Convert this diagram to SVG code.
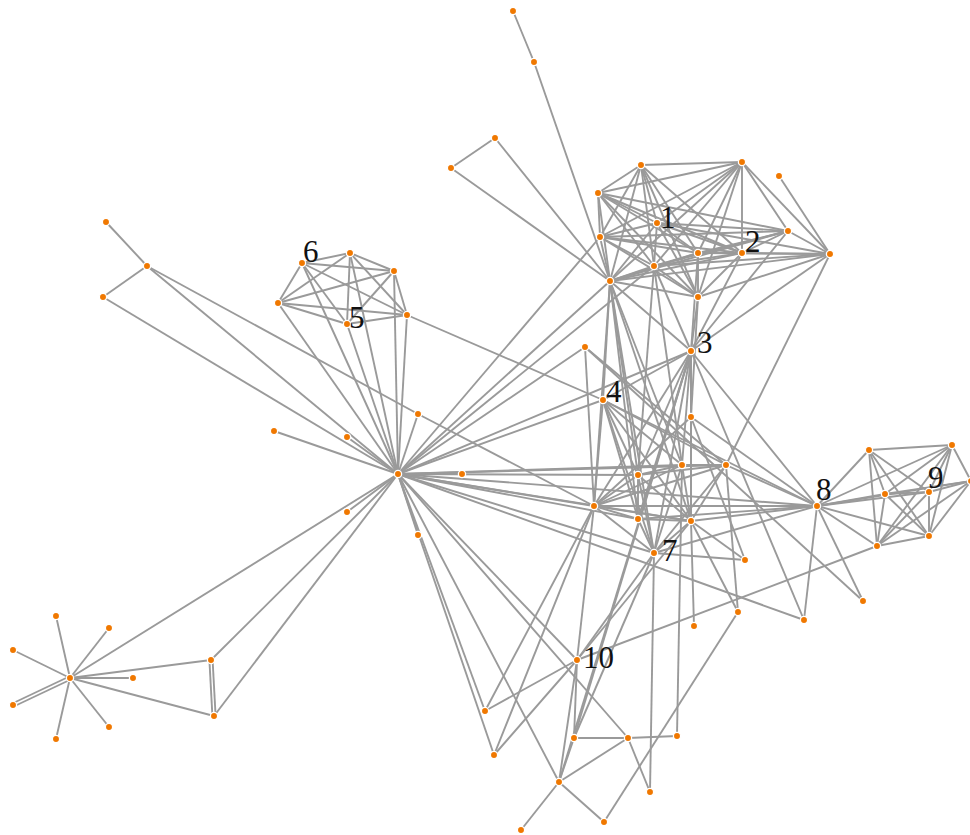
<svg xmlns="http://www.w3.org/2000/svg" width="970" height="835" viewBox="0 0 970 835">
<style>
.e line{stroke:#9a9a9a;stroke-width:1.9;fill:none}
.n circle{fill:#f07800;stroke:#ffffff;stroke-width:1.3}
.lbl{font-family:"Liberation Serif",serif;font-size:31px;fill:#111}
</style>
<rect width="970" height="835" fill="#ffffff"/>
<g id="edges" class="e">
<line x1="513" y1="11" x2="534" y2="62"/><line x1="534" y1="62" x2="610" y2="281"/><line x1="495" y1="138" x2="451" y2="168"/><line x1="495" y1="138" x2="610" y2="281"/><line x1="451" y1="168" x2="610" y2="281"/>
<line x1="106" y1="222" x2="147" y2="266"/><line x1="147" y1="266" x2="103" y2="297"/><line x1="147" y1="266" x2="398" y2="474"/><line x1="103" y1="297" x2="398" y2="474"/><line x1="147" y1="266" x2="418" y2="414"/><line x1="418" y1="414" x2="594" y2="506"/><line x1="418" y1="414" x2="398" y2="474"/>
<line x1="302" y1="263" x2="350" y2="253"/><line x1="302" y1="263" x2="394" y2="271"/><line x1="302" y1="263" x2="278" y2="303"/><line x1="302" y1="263" x2="347" y2="324"/><line x1="302" y1="263" x2="407" y2="315"/><line x1="350" y1="253" x2="394" y2="271"/><line x1="350" y1="253" x2="278" y2="303"/><line x1="350" y1="253" x2="347" y2="324"/><line x1="350" y1="253" x2="407" y2="315"/><line x1="394" y1="271" x2="278" y2="303"/><line x1="394" y1="271" x2="347" y2="324"/><line x1="394" y1="271" x2="407" y2="315"/><line x1="278" y1="303" x2="347" y2="324"/><line x1="278" y1="303" x2="407" y2="315"/><line x1="347" y1="324" x2="407" y2="315"/>
<line x1="302" y1="263" x2="398" y2="474"/><line x1="350" y1="253" x2="398" y2="474"/><line x1="394" y1="271" x2="398" y2="474"/><line x1="278" y1="303" x2="398" y2="474"/><line x1="347" y1="324" x2="398" y2="474"/><line x1="407" y1="315" x2="398" y2="474"/><line x1="407" y1="315" x2="603" y2="400"/>
<line x1="274" y1="431" x2="398" y2="474"/><line x1="347" y1="437" x2="398" y2="474"/><line x1="462" y1="474" x2="398" y2="474"/><line x1="347" y1="512" x2="398" y2="474"/><line x1="418" y1="535" x2="398" y2="474"/><line x1="398" y1="474" x2="485" y2="711"/><line x1="398" y1="474" x2="494" y2="755"/><line x1="70" y1="678" x2="398" y2="474"/><line x1="211" y1="660" x2="398" y2="474"/><line x1="214" y1="716" x2="398" y2="474"/>
<line x1="398" y1="474" x2="610" y2="281"/><line x1="398" y1="474" x2="654" y2="266"/><line x1="398" y1="474" x2="585" y2="347"/><line x1="398" y1="474" x2="603" y2="400"/><line x1="398" y1="474" x2="691" y2="351"/><line x1="398" y1="474" x2="600" y2="237"/><line x1="398" y1="474" x2="682" y2="465"/><line x1="398" y1="474" x2="726" y2="465"/><line x1="398" y1="474" x2="817" y2="506"/><line x1="398" y1="474" x2="594" y2="506"/><line x1="398" y1="474" x2="638" y2="475"/><line x1="398" y1="474" x2="638" y2="519"/><line x1="398" y1="474" x2="691" y2="521"/><line x1="398" y1="474" x2="654" y2="553"/><line x1="398" y1="474" x2="577" y2="660"/><line x1="398" y1="474" x2="628" y2="738"/><line x1="398" y1="474" x2="559" y2="782"/><line x1="398" y1="474" x2="804" y2="620"/>
<line x1="70" y1="678" x2="56" y2="616"/><line x1="70" y1="678" x2="109" y2="628"/><line x1="70" y1="678" x2="13" y2="650"/><line x1="70" y1="678" x2="133" y2="678"/><line x1="70.7" y1="679.5" x2="13.7" y2="706.5"/><line x1="69.3" y1="676.5" x2="12.3" y2="703.5"/><line x1="70" y1="678" x2="109" y2="727"/><line x1="70" y1="678" x2="56" y2="739"/><line x1="70" y1="678" x2="211" y2="660"/><line x1="70" y1="678" x2="214" y2="716"/><line x1="209.4" y1="660" x2="212.4" y2="716"/><line x1="212.6" y1="660" x2="215.6" y2="716"/>
<line x1="641" y1="165" x2="742" y2="162"/><line x1="641" y1="165" x2="598" y2="193"/><line x1="641" y1="165" x2="657" y2="223"/><line x1="641" y1="165" x2="600" y2="237"/><line x1="641" y1="165" x2="698" y2="253"/><line x1="641" y1="165" x2="742" y2="253"/><line x1="641" y1="165" x2="654" y2="266"/><line x1="641" y1="165" x2="610" y2="281"/><line x1="641" y1="165" x2="698" y2="297"/>
<line x1="742" y1="162" x2="598" y2="193"/><line x1="742" y1="162" x2="657" y2="223"/><line x1="742" y1="162" x2="600" y2="237"/><line x1="742" y1="162" x2="698" y2="253"/><line x1="742" y1="162" x2="742" y2="253"/><line x1="742" y1="162" x2="788" y2="231"/><line x1="742" y1="162" x2="830" y2="254"/><line x1="742" y1="162" x2="654" y2="266"/><line x1="742" y1="162" x2="610" y2="281"/><line x1="742" y1="162" x2="698" y2="297"/>
<line x1="598" y1="193" x2="657" y2="223"/><line x1="598" y1="193" x2="600" y2="237"/><line x1="598" y1="193" x2="698" y2="253"/><line x1="598" y1="193" x2="742" y2="253"/><line x1="598" y1="193" x2="788" y2="231"/><line x1="598" y1="193" x2="654" y2="266"/><line x1="598" y1="193" x2="610" y2="281"/><line x1="598" y1="193" x2="698" y2="297"/>
<line x1="657" y1="223" x2="600" y2="237"/><line x1="657" y1="223" x2="698" y2="253"/><line x1="657" y1="223" x2="742" y2="253"/><line x1="657" y1="223" x2="788" y2="231"/><line x1="657" y1="223" x2="830" y2="254"/><line x1="657" y1="223" x2="654" y2="266"/><line x1="657" y1="223" x2="610" y2="281"/><line x1="657" y1="223" x2="698" y2="297"/>
<line x1="600" y1="237" x2="698" y2="253"/><line x1="600" y1="237" x2="742" y2="253"/><line x1="600" y1="237" x2="788" y2="231"/><line x1="600" y1="237" x2="654" y2="266"/><line x1="600" y1="237" x2="610" y2="281"/><line x1="600" y1="237" x2="698" y2="297"/>
<line x1="698" y1="253" x2="742" y2="253"/><line x1="698" y1="253" x2="788" y2="231"/><line x1="698" y1="253" x2="830" y2="254"/><line x1="698" y1="253" x2="654" y2="266"/><line x1="698" y1="253" x2="610" y2="281"/><line x1="698" y1="253" x2="698" y2="297"/>
<line x1="742" y1="253" x2="788" y2="231"/><line x1="742" y1="253" x2="830" y2="254"/><line x1="742" y1="253" x2="654" y2="266"/><line x1="742" y1="253" x2="610" y2="281"/><line x1="742" y1="253" x2="698" y2="297"/>
<line x1="788" y1="231" x2="830" y2="254"/><line x1="788" y1="231" x2="654" y2="266"/><line x1="788" y1="231" x2="610" y2="281"/><line x1="830" y1="254" x2="654" y2="266"/><line x1="830" y1="254" x2="610" y2="281"/><line x1="830" y1="254" x2="698" y2="297"/><line x1="654" y1="266" x2="610" y2="281"/><line x1="654" y1="266" x2="698" y2="297"/><line x1="610" y1="281" x2="698" y2="297"/><line x1="779" y1="176" x2="830" y2="254"/>
<line x1="610" y1="281" x2="603" y2="400"/><line x1="610" y1="281" x2="594" y2="506"/><line x1="610" y1="281" x2="638" y2="475"/><line x1="610" y1="281" x2="638" y2="519"/><line x1="610" y1="281" x2="691" y2="521"/><line x1="610" y1="281" x2="682" y2="465"/><line x1="610" y1="281" x2="691" y2="351"/><line x1="610" y1="281" x2="654" y2="553"/>
<line x1="654" y1="266" x2="691" y2="351"/><line x1="654" y1="266" x2="682" y2="465"/><line x1="654" y1="266" x2="638" y2="475"/><line x1="698" y1="297" x2="691" y2="351"/><line x1="698" y1="297" x2="691" y2="417"/><line x1="698" y1="253" x2="691" y2="351"/><line x1="742" y1="253" x2="691" y2="351"/><line x1="830" y1="254" x2="691" y2="351"/><line x1="788" y1="231" x2="691" y2="351"/><line x1="830" y1="254" x2="726" y2="465"/>
<line x1="691" y1="351" x2="691" y2="417"/><line x1="691" y1="351" x2="682" y2="465"/><line x1="691" y1="351" x2="638" y2="475"/><line x1="691" y1="351" x2="638" y2="519"/><line x1="691" y1="351" x2="594" y2="506"/><line x1="691" y1="351" x2="691" y2="521"/><line x1="691" y1="351" x2="654" y2="553"/><line x1="691" y1="351" x2="559" y2="782"/><line x1="691" y1="351" x2="574" y2="738"/><line x1="691" y1="351" x2="817" y2="506"/><line x1="691" y1="351" x2="804" y2="620"/><line x1="603" y1="400" x2="691" y2="351"/>
<line x1="603" y1="400" x2="594" y2="506"/><line x1="603" y1="400" x2="638" y2="475"/><line x1="603" y1="400" x2="638" y2="519"/><line x1="603" y1="400" x2="682" y2="465"/><line x1="603" y1="400" x2="726" y2="465"/><line x1="603" y1="400" x2="691" y2="521"/><line x1="603" y1="400" x2="654" y2="553"/><line x1="603" y1="400" x2="817" y2="506"/>
<line x1="585" y1="347" x2="594" y2="506"/><line x1="585" y1="347" x2="726" y2="465"/><line x1="585" y1="347" x2="863" y2="601"/>
<line x1="691" y1="417" x2="691" y2="521"/><line x1="691" y1="417" x2="817" y2="506"/><line x1="691" y1="417" x2="745" y2="560"/><line x1="691" y1="417" x2="594" y2="506"/>
<line x1="682" y1="465" x2="726" y2="465"/><line x1="682" y1="465" x2="638" y2="475"/><line x1="682" y1="465" x2="654" y2="553"/><line x1="682" y1="465" x2="691" y2="521"/><line x1="682" y1="465" x2="594" y2="506"/><line x1="682" y1="465" x2="677" y2="736"/>
<line x1="726" y1="465" x2="638" y2="475"/><line x1="726" y1="465" x2="594" y2="506"/><line x1="726" y1="465" x2="654" y2="553"/><line x1="726" y1="465" x2="691" y2="521"/><line x1="726" y1="465" x2="817" y2="506"/><line x1="726" y1="465" x2="738" y2="612"/>
<line x1="638" y1="475" x2="594" y2="506"/><line x1="638" y1="475" x2="638" y2="519"/><line x1="638" y1="475" x2="691" y2="521"/><line x1="638" y1="475" x2="654" y2="553"/>
<line x1="594" y1="506" x2="638" y2="519"/><line x1="594" y1="506" x2="691" y2="521"/><line x1="594" y1="506" x2="654" y2="553"/><line x1="594" y1="506" x2="817" y2="506"/><line x1="594" y1="506" x2="485" y2="711"/><line x1="594" y1="506" x2="494" y2="755"/><line x1="594" y1="506" x2="577" y2="660"/>
<line x1="638" y1="519" x2="654" y2="553"/><line x1="638" y1="519" x2="691" y2="521"/><line x1="638" y1="519" x2="817" y2="506"/>
<line x1="691" y1="521" x2="654" y2="553"/><line x1="691" y1="521" x2="817" y2="506"/><line x1="691" y1="521" x2="745" y2="560"/><line x1="691" y1="521" x2="738" y2="612"/><line x1="691" y1="521" x2="694" y2="626"/><line x1="691" y1="521" x2="577" y2="660"/>
<line x1="654" y1="553" x2="745" y2="560"/><line x1="654" y1="553" x2="577" y2="660"/><line x1="654" y1="553" x2="650" y2="792"/><line x1="654" y1="553" x2="817" y2="506"/><line x1="654" y1="553" x2="574" y2="738"/>
<line x1="577" y1="660" x2="485" y2="711"/><line x1="577" y1="660" x2="494" y2="755"/><line x1="577" y1="660" x2="574" y2="738"/><line x1="577" y1="660" x2="559" y2="782"/><line x1="577" y1="660" x2="877" y2="546"/>
<line x1="574" y1="738" x2="628" y2="738"/><line x1="574" y1="738" x2="559" y2="782"/><line x1="628" y1="738" x2="677" y2="736"/><line x1="628" y1="738" x2="559" y2="782"/><line x1="628" y1="738" x2="650" y2="792"/><line x1="559" y1="782" x2="521" y2="830"/><line x1="559" y1="782" x2="604" y2="822"/><line x1="604" y1="822" x2="738" y2="612"/>
<line x1="817" y1="506" x2="869" y2="450"/><line x1="817" y1="506" x2="885" y2="494"/><line x1="817" y1="506" x2="929" y2="492"/><line x1="817" y1="506" x2="877" y2="546"/><line x1="817" y1="506" x2="929" y2="536"/><line x1="817" y1="506" x2="952" y2="445"/><line x1="817" y1="506" x2="971" y2="481"/><line x1="817" y1="506" x2="863" y2="601"/><line x1="817" y1="506" x2="804" y2="620"/>
<line x1="869" y1="450" x2="952" y2="445"/><line x1="869" y1="450" x2="885" y2="494"/><line x1="869" y1="450" x2="929" y2="492"/><line x1="869" y1="450" x2="929" y2="536"/><line x1="869" y1="450" x2="877" y2="546"/><line x1="952" y1="445" x2="885" y2="494"/><line x1="952" y1="445" x2="929" y2="492"/><line x1="952" y1="445" x2="929" y2="536"/><line x1="952" y1="445" x2="877" y2="546"/><line x1="952" y1="445" x2="971" y2="481"/><line x1="885" y1="494" x2="929" y2="492"/><line x1="885" y1="494" x2="929" y2="536"/><line x1="885" y1="494" x2="877" y2="546"/><line x1="885" y1="494" x2="971" y2="481"/><line x1="929" y1="492" x2="929" y2="536"/><line x1="929" y1="492" x2="877" y2="546"/><line x1="929" y1="492" x2="971" y2="481"/><line x1="929" y1="536" x2="877" y2="546"/><line x1="929" y1="536" x2="971" y2="481"/><line x1="877" y1="546" x2="971" y2="481"/>
</g>
<g id="nodes" class="n">
<g id="T1"><circle cx="513" cy="11" r="3.6"/></g><g id="T2"><circle cx="534" cy="62" r="3.6"/></g><g id="T3"><circle cx="495" cy="138" r="3.6"/></g><g id="T4"><circle cx="451" cy="168" r="3.6"/></g>
<g id="a"><circle cx="641" cy="165" r="3.6"/></g><g id="b"><circle cx="742" cy="162" r="3.6"/></g><g id="c"><circle cx="598" cy="193" r="3.6"/></g>
<g id="node1"><circle cx="657" cy="223" r="3.6"/><text class="lbl" x="660" y="228">1</text></g>
<g id="d"><circle cx="600" cy="237" r="3.6"/></g><g id="e"><circle cx="698" cy="253" r="3.6"/></g>
<g id="node2"><circle cx="742" cy="253" r="3.6"/><text class="lbl" x="745" y="252">2</text></g>
<g id="f"><circle cx="788" cy="231" r="3.6"/></g><g id="g"><circle cx="830" cy="254" r="3.6"/></g><g id="h"><circle cx="654" cy="266" r="3.6"/></g><g id="i"><circle cx="610" cy="281" r="3.6"/></g><g id="j"><circle cx="698" cy="297" r="3.6"/></g><g id="k"><circle cx="779" cy="176" r="3.6"/></g>
<g id="node6"><circle cx="302" cy="263" r="3.6"/><text class="lbl" x="303" y="262">6</text></g>
<g id="l"><circle cx="350" cy="253" r="3.6"/></g><g id="m"><circle cx="394" cy="271" r="3.6"/></g><g id="nn"><circle cx="278" cy="303" r="3.6"/></g>
<g id="node5"><circle cx="347" cy="324" r="3.6"/><text class="lbl" x="349" y="328">5</text></g>
<g id="o"><circle cx="407" cy="315" r="3.6"/></g>
<g id="L1"><circle cx="106" cy="222" r="3.6"/></g><g id="L2"><circle cx="147" cy="266" r="3.6"/></g><g id="L3"><circle cx="103" cy="297" r="3.6"/></g>
<g id="p"><circle cx="418" cy="414" r="3.6"/></g><g id="q"><circle cx="274" cy="431" r="3.6"/></g><g id="r"><circle cx="347" cy="437" r="3.6"/></g><g id="hub"><circle cx="398" cy="474" r="3.6"/></g><g id="s"><circle cx="462" cy="474" r="3.6"/></g><g id="t"><circle cx="347" cy="512" r="3.6"/></g><g id="u"><circle cx="418" cy="535" r="3.6"/></g>
<g id="v"><circle cx="585" cy="347" r="3.6"/></g>
<g id="node3"><circle cx="691" cy="351" r="3.6"/><text class="lbl" x="697" y="353">3</text></g>
<g id="node4"><circle cx="603" cy="400" r="3.6"/><text class="lbl" x="606" y="402">4</text></g>
<g id="w"><circle cx="691" cy="417" r="3.6"/></g><g id="x"><circle cx="682" cy="465" r="3.6"/></g><g id="y"><circle cx="726" cy="465" r="3.6"/></g><g id="z"><circle cx="638" cy="475" r="3.6"/></g><g id="aa"><circle cx="594" cy="506" r="3.6"/></g><g id="bb"><circle cx="638" cy="519" r="3.6"/></g><g id="cc"><circle cx="691" cy="521" r="3.6"/></g>
<g id="node7"><circle cx="654" cy="553" r="3.6"/><text class="lbl" x="662" y="561">7</text></g>
<g id="dd"><circle cx="745" cy="560" r="3.6"/></g>
<g id="node8"><circle cx="817" cy="506" r="3.6"/><text class="lbl" x="816" y="500">8</text></g>
<g id="ee"><circle cx="738" cy="612" r="3.6"/></g><g id="ff"><circle cx="804" cy="620" r="3.6"/></g><g id="gg"><circle cx="694" cy="626" r="3.6"/></g>
<g id="hh"><circle cx="869" cy="450" r="3.6"/></g><g id="ii"><circle cx="952" cy="445" r="3.6"/></g><g id="jj"><circle cx="885" cy="494" r="3.6"/></g>
<g id="node9"><circle cx="929" cy="492" r="3.6"/><text class="lbl" x="928" y="488">9</text></g>
<g id="kk"><circle cx="929" cy="536" r="3.6"/></g><g id="ll"><circle cx="877" cy="546" r="3.6"/></g><g id="mm"><circle cx="863" cy="601" r="3.6"/></g><g id="R"><circle cx="971" cy="481" r="3.6"/></g>
<g id="S"><circle cx="70" cy="678" r="3.6"/></g><g id="s1"><circle cx="56" cy="616" r="3.6"/></g><g id="s2"><circle cx="109" cy="628" r="3.6"/></g><g id="s3"><circle cx="13" cy="650" r="3.6"/></g><g id="s4"><circle cx="133" cy="678" r="3.6"/></g><g id="s5"><circle cx="13" cy="705" r="3.6"/></g><g id="s6"><circle cx="109" cy="727" r="3.6"/></g><g id="s7"><circle cx="56" cy="739" r="3.6"/></g><g id="P1"><circle cx="211" cy="660" r="3.6"/></g><g id="P2"><circle cx="214" cy="716" r="3.6"/></g>
<g id="node10"><circle cx="577" cy="660" r="3.6"/><text class="lbl" x="583" y="668">10</text></g>
<g id="oo"><circle cx="485" cy="711" r="3.6"/></g><g id="pp"><circle cx="494" cy="755" r="3.6"/></g><g id="qq"><circle cx="574" cy="738" r="3.6"/></g><g id="rr"><circle cx="628" cy="738" r="3.6"/></g><g id="ss"><circle cx="677" cy="736" r="3.6"/></g><g id="tt"><circle cx="559" cy="782" r="3.6"/></g><g id="uu"><circle cx="650" cy="792" r="3.6"/></g><g id="vv"><circle cx="604" cy="822" r="3.6"/></g><g id="ww"><circle cx="521" cy="830" r="3.6"/></g>
</g>
</svg>
